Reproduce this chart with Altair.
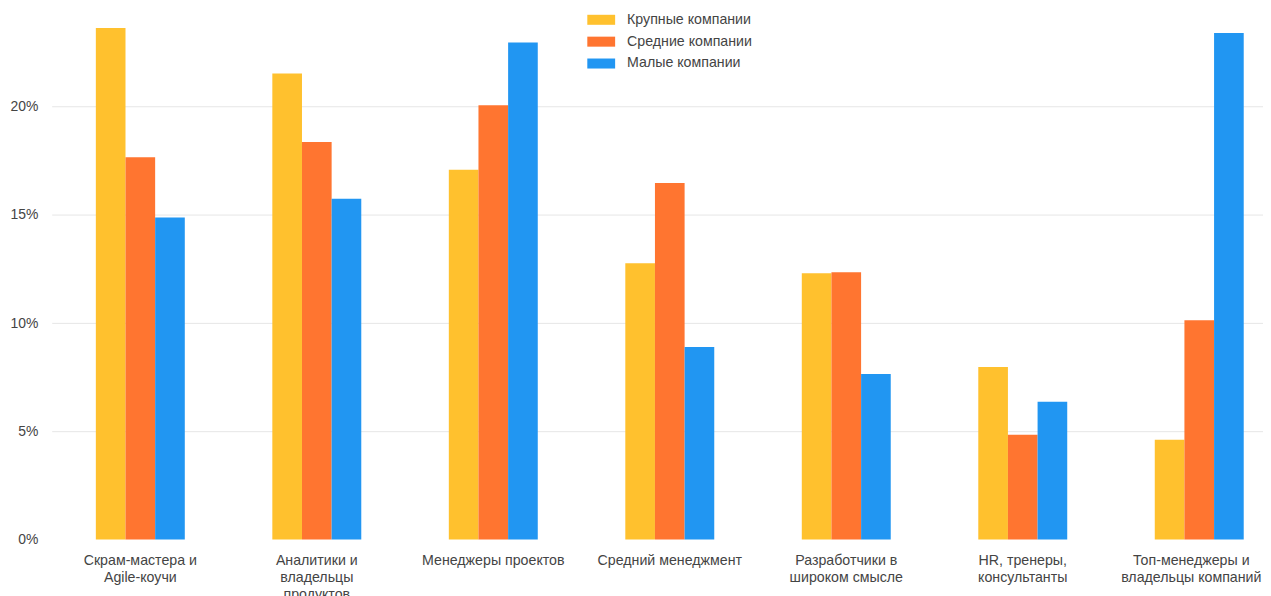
import altair as alt
import pandas as pd

categories = [
    "Скрам-мастера и\nAgile-коучи",
    "Аналитики и\nвладельцы\nпродуктов",
    "Менеджеры проектов",
    "Средний менеджмент",
    "Разработчики в\nшироком смысле",
    "HR, тренеры,\nконсультанты",
    "Топ-менеджеры и\nвладельцы компаний",
]
series = ["Крупные компании", "Средние компании", "Малые компании"]
colors = ["#FFC12E", "#FF7530", "#2196F2"]

large = [23.64, 21.54, 17.09, 12.76, 12.30, 7.97, 4.61]
medium = [17.66, 18.37, 20.07, 16.48, 12.35, 4.84, 10.13]
small = [14.88, 15.75, 22.97, 8.90, 7.65, 6.36, 23.41]

y_ticks = [0, 5, 10, 15, 20]

rows = []
for name, vals in zip(series, [large, medium, small]):
    for c, v in zip(categories, vals):
        rows.append({"category": c, "series": name, "value": v})
df = pd.DataFrame(rows)

FONT = "Liberation Sans"

chart = (
    alt.Chart(df)
    .mark_bar()
    .encode(
        x=alt.X(
            "category:N",
            sort=categories,
            scale=alt.Scale(paddingInner=0.496, paddingOuter=0.25, range=[0, 1244]),
            axis=alt.Axis(
                title=None,
                labelAngle=0,
                labelExpr="split(datum.label, '\\n')",
                labelFont=FONT,
                labelFontSize=14.3,
                labelColor="#444444",
                labelPadding=14,
                labelLineHeight=17,
                labelLimit=300,
                labelOffset={"condition": {"test": "indexof(datum.value, 'Топ') === 0", "value": -8}, "value": 0},
                domain=False,
                ticks=False,
                grid=False,
            ),
        ),
        xOffset=alt.XOffset("series:N", sort=series, scale=alt.Scale(paddingInner=0, paddingOuter=0)),
        y=alt.Y(
            "value:Q",
            scale=alt.Scale(domain=[0, 24.2], nice=False, zero=True),
            axis=alt.Axis(
                title=None,
                values=y_ticks,
                labelExpr="datum.value + '%'",
                labelFont=FONT,
                labelFontSize=14,
                labelColor="#444444",
                labelPadding=14,
                domain=False,
                ticks=False,
                gridColor="#e6e6e6",
                gridOpacity={"condition": {"test": "datum.value === 0", "value": 0}, "value": 1},
            ),
        ),
        color=alt.Color(
            "series:N",
            sort=series,
            scale=alt.Scale(domain=series, range=colors),
            legend=alt.Legend(
                title=None,
                orient="none",
                legendX=539,
                legendY=-10,
                symbolType="M-1,-0.36H1V0.36H-1Z",
                symbolSize=784,
                symbolStrokeWidth=0,
                labelFont=FONT,
                labelFontSize=14.3,
                labelColor="#444444",
                labelOffset=12,
                rowPadding=-0.5,
                padding=0,
            ),
        ),
    )
    .properties(
        width=1219,
        height=527,
        autosize=alt.AutoSizeParams(type="none"),
        padding={"left": 44, "top": 6, "right": 0, "bottom": 55},
    )
    .configure_view(stroke=None)
)

chart.save("out.html", embed_options={"renderer": "svg", "actions": False})
